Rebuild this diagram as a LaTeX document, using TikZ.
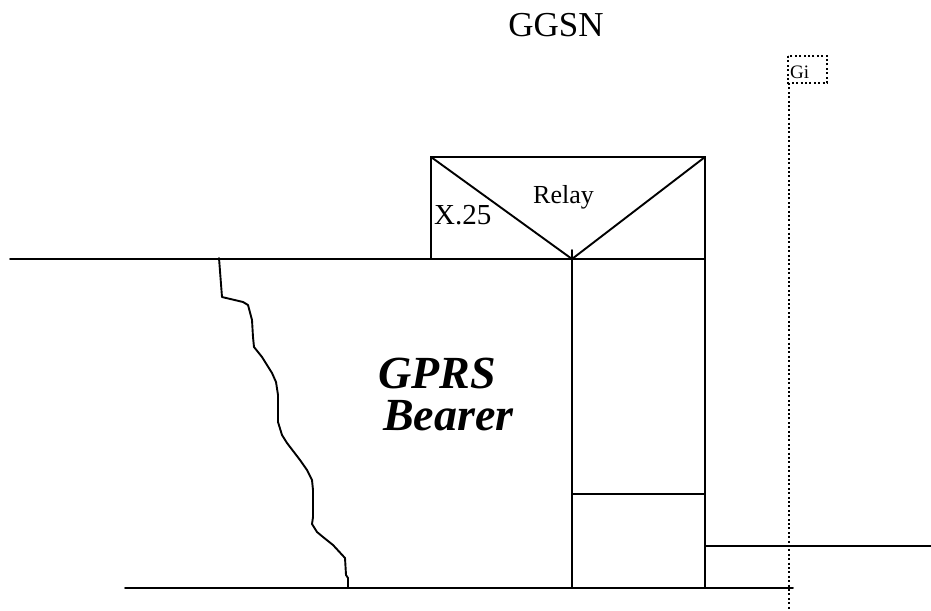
\documentclass[tikz,border=0pt]{standalone}
\usepackage{fontspec}
\setmainfont{Liberation Serif}
\tikzset{
  ln/.style={line width=1.9pt, line cap=round},
  dotln/.style={line width=1.9pt, dash pattern=on 2pt off 2.4pt},
  lbl/.style={inner sep=0pt, anchor=base west},
}
\begin{document}
\begin{tikzpicture}[x=1pt,y=-1pt]
\useasboundingbox (0,0) rectangle (931,610);
% labels
\node[lbl, anchor=base] (ggsn) at (556,37) {\fontsize{35}{38}\selectfont GGSN};
\node[lbl] (relay) at (533,203) {\fontsize{26}{28}\selectfont Relay};
\node[lbl] (x25) at (434,224) {\fontsize{29}{31}\selectfont X.25};
\node[lbl] (gi) at (790,78) {\fontsize{19}{21}\selectfont Gi};
\node[lbl] (gprs) at (378,388) {\fontsize{46}{48}\selectfont\bfseries\itshape GPRS};
\node[lbl] (bearer) at (383,430) {\fontsize{46}{48}\selectfont\bfseries\itshape Bearer};
% relay box
\coordinate (rtl) at (431,157);
\coordinate (rtr) at (705,157);
\coordinate (rbl) at (431,259);
\coordinate (rbm) at (572,259);
\draw[ln] (rbl) -- (rtl) -- (rtr) -- (705,587);
\draw[ln] (rtl) -- (rbm) -- (rtr);
% horizontal lines
\draw[ln] (10,259) -- (705,259);
\draw[ln] (125,588) -- (793,588);
\draw[ln] (572,494) -- (705,494);
\draw[ln] (705,546) -- (931,546);
% vertical
\draw[ln] (572,250) -- (572,588);
% Gi dotted
\draw[dotln] (788,56) rectangle (827,83);
\draw[dotln] (789,83) -- (789,610);
% jagged line
\draw[ln, line join=round] (219,258) -- (222,297) -- (243,302) -- (248,305) -- (252,320) -- (253,337) -- (254,347) -- (262,357) -- (272,373) -- (276,382) -- (278,395) -- (278,422) -- (282,435) -- (287,443) -- (300,460) -- (307,470) -- (312,480) -- (313,490) -- (313,517) -- (312,524) -- (317,532) -- (323,537) -- (333,545) -- (345,558) -- (346,575) -- (348,578) -- (348,588);
\end{tikzpicture}
\end{document}
